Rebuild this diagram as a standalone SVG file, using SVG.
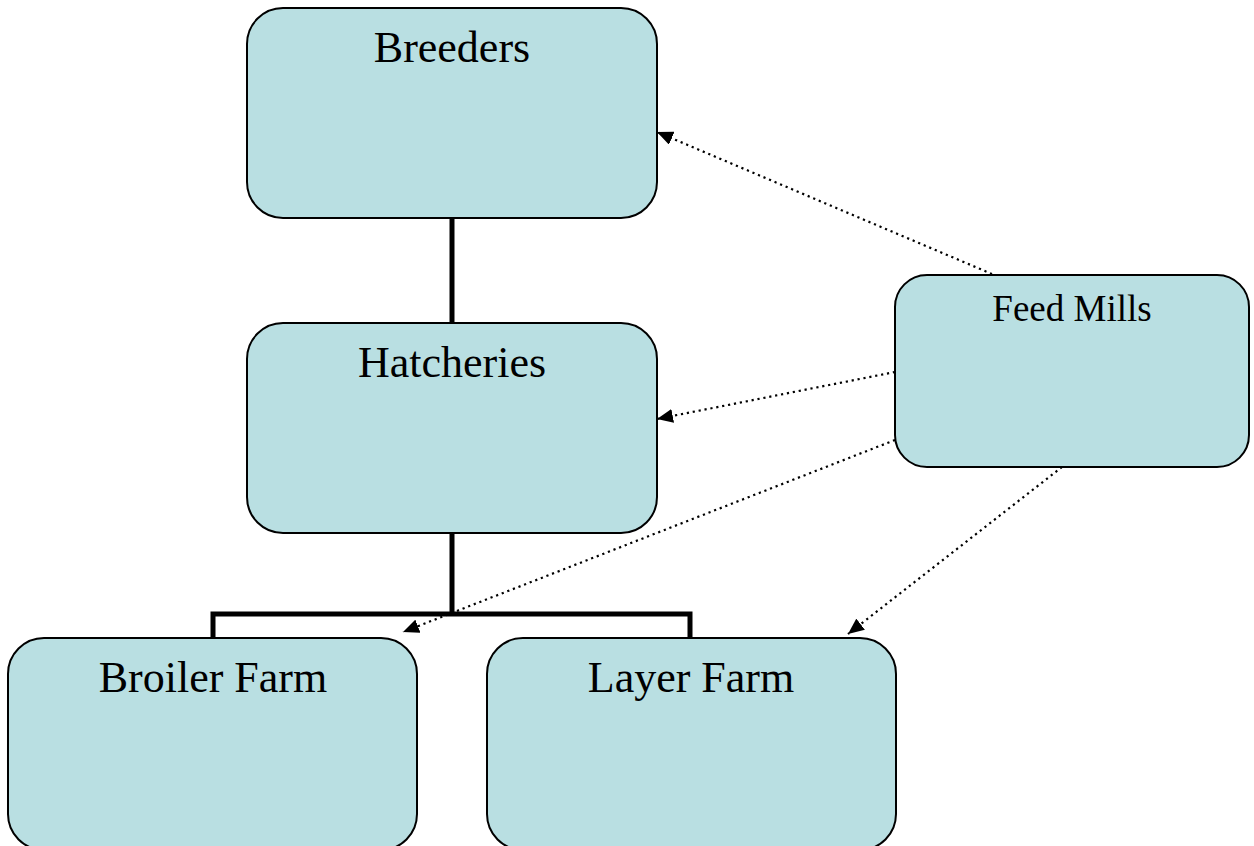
<svg xmlns="http://www.w3.org/2000/svg" width="1254" height="846" viewBox="0 0 1254 846">
<style>
.box{fill:#b9dfe2;stroke:#000;stroke-width:2}
.lbl{font-family:"Liberation Serif","Times New Roman",serif;font-size:44px;fill:#000;text-anchor:middle}
.small{font-size:37px}
.tree{fill:none;stroke:#000;stroke-width:5}
.dot{fill:none;stroke:#000;stroke-width:2.2;stroke-dasharray:2.2 3.8}
</style>
<defs>
<marker id="ah" markerUnits="userSpaceOnUse" markerWidth="18" markerHeight="14" refX="16" refY="7" orient="auto">
<path d="M0,0 L16,7 L0,14 Z" fill="#000"/>
</marker>
</defs>
<rect width="1254" height="846" fill="#fff"/>
<g id="connectors">
<line class="tree" x1="452" y1="218" x2="452" y2="323"/>
<path class="tree" d="M452,533 V614 M213,638 V614 H690 V638"/>
<line class="dot" x1="992" y1="274" x2="657" y2="132" marker-end="url(#ah)"/>
<line class="dot" x1="895" y1="372" x2="657" y2="419" marker-end="url(#ah)"/>
<line class="dot" x1="895" y1="440" x2="403" y2="632" marker-end="url(#ah)"/>
<line class="dot" x1="1062" y1="467" x2="848" y2="634" marker-end="url(#ah)"/>
</g>
<g id="breeders">
<rect class="box" x="247" y="8" width="410" height="210" rx="36"/>
<text class="lbl" x="452" y="62">Breeders</text>
</g>
<g id="hatcheries">
<rect class="box" x="247" y="323" width="410" height="210" rx="36"/>
<text class="lbl" x="452" y="377">Hatcheries</text>
</g>
<g id="broiler">
<rect class="box" x="8" y="638" width="409" height="212" rx="36"/>
<text class="lbl" x="213" y="692">Broiler Farm</text>
</g>
<g id="layer">
<rect class="box" x="487" y="638" width="409" height="212" rx="36"/>
<text class="lbl" x="691" y="692">Layer Farm</text>
</g>
<g id="feedmills">
<rect class="box" x="895" y="275" width="354" height="192" rx="32"/>
<text class="lbl small" x="1072" y="321">Feed Mills</text>
</g>
</svg>
